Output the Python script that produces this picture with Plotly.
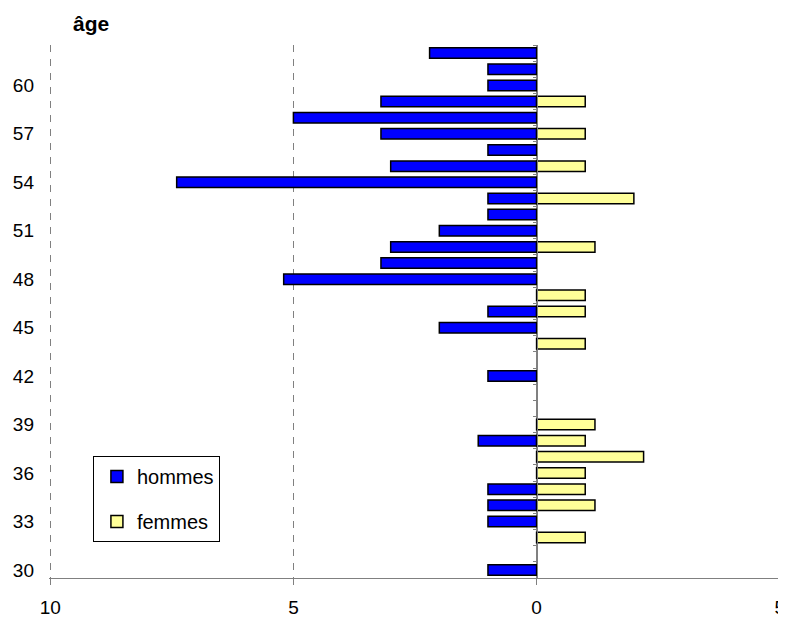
import plotly.graph_objects as go

# Pyramide des âges : effectifs par âge (hommes à gauche, femmes à droite)
ages = list(range(30, 63))

hommes = [1, None, None, 1, 1, 1, None, None, 1.2, None,
          None, None, 1, None, None, 2, 1, None, 5.2, 3.2,
          3, 2, 1, 1, 7.4, 3, 1, 3.2, 5, 3.2,
          1, 1, 2.2]

femmes = [None, None, 1, None, 1.2, 1, 1, 2.2, 1, 1.2,
          None, None, None, None, 1, None, 1, 1, None, None,
          1.2, None, None, 2, None, 1, None, 1, None, 1,
          None, None, None]

x_ticks = [-10, -5, 0, 5]
x_labels = ["10", "5", "0", "5"]
y_ticks = list(range(30, 61, 3))

FONT = "Liberation Sans, Arial, sans-serif"

# la page html a une marge de 8 px : la figure est réduite d'autant
X_MIN, X_MAX = -10.025, 5.025

fig = go.Figure()

fig.add_trace(go.Bar(
    y=ages,
    x=[-v if v is not None else None for v in hommes],
    orientation="h",
    name="hommes",
    legendgroup="h",
    width=0.65,
    marker=dict(color="#0000FF", line=dict(color="black", width=1.5)),
))

fig.add_trace(go.Bar(
    y=ages,
    x=femmes,
    orientation="h",
    name="femmes",
    legendgroup="f",
    yaxis="y2",
    width=0.65,
    marker=dict(color="#FFFF99", line=dict(color="black", width=1.5)),
))

y_range = [ages[0] - 0.5, ages[-1] + 0.5]

fig.update_layout(
    width=778,
    height=610,
    margin=dict(l=41, r=5, t=37, b=40, autoexpand=False),
    paper_bgcolor="white",
    plot_bgcolor="white",
    font=dict(family=FONT, size=19, color="black"),
    barmode="overlay",
    xaxis=dict(
        range=[X_MIN, X_MAX],
        tickvals=x_ticks,
        ticktext=x_labels,
        automargin=False,
        ticklabeloverflow="allow",
        showgrid=True,
        gridcolor="#808080",
        griddash="7px,7px",
        gridwidth=1,
        zeroline=True,
        zerolinecolor="#808080",
        zerolinewidth=1,
        showline=True,
        linecolor="#808080",
        linewidth=1,
        ticks="outside",
        ticklen=6,
        tickcolor="#808080",
        ticklabelstandoff=6,
    ),
    yaxis=dict(
        range=y_range,
        tickvals=y_ticks,
        automargin=False,
        showgrid=False,
        zeroline=False,
        showline=False,
        ticks="",
        ticklabelstandoff=14,
    ),
    yaxis2=dict(
        range=y_range,
        overlaying="y",
        anchor="free",
        position=-X_MIN / (X_MAX - X_MIN),
        side="left",
        automargin=False,
        tickvals=[a - 0.5 for a in ages] + [ages[-1] + 0.5],
        showticklabels=False,
        ticks="outside",
        ticklen=4,
        tickcolor="#808080",
        showgrid=False,
        zeroline=False,
        showline=True,
        linecolor="#808080",
        linewidth=1,
    ),
    legend=dict(
        x=0.06,
        y=0.229,
        xanchor="left",
        yanchor="top",
        bordercolor="black",
        borderwidth=1,
        bgcolor="white",
        font=dict(size=20),
        itemwidth=30,
        indentation=3,
        traceorder="grouped",
        tracegroupgap=16,
    ),
    showlegend=True,
    annotations=[dict(
        text="<b>âge</b>",
        xref="paper", yref="paper",
        x=0.057, y=1.041,
        xanchor="center", yanchor="middle",
        showarrow=False,
        font=dict(size=21),
    )],
)

fig.write_html("out.html")
